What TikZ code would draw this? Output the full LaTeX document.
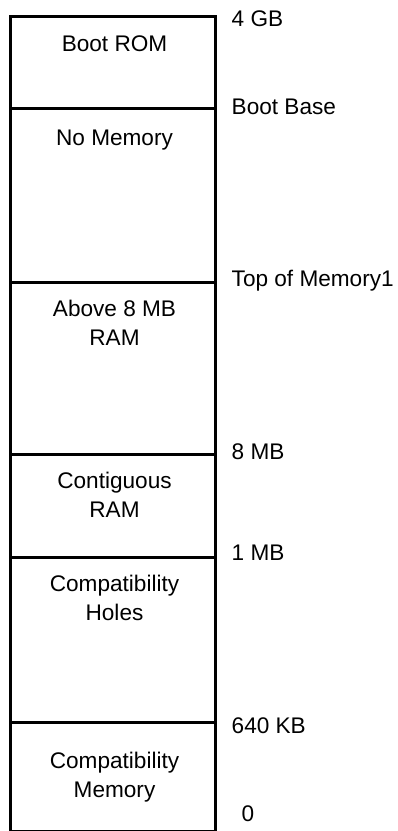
\documentclass[tikz,border=0pt]{standalone}
\usepackage{fontspec}
\setmainfont{Liberation Sans}
\begin{document}
\begin{tikzpicture}[x=1pt,y=-1pt,
  region/.style={font=\fontsize{22.6}{29}\selectfont, align=center, anchor=base, inner sep=0pt},
  addr/.style={font=\fontsize{22.6}{29}\selectfont, anchor=base west, inner sep=0pt},
  sep/.style={line width=3pt}]
\useasboundingbox (0,0) rectangle (398,831);
% outer frame
\draw[sep] (215.5,831) -- (215.5,16.5) -- (10.5,16.5) -- (10.5,831);
\draw[line width=3pt] (10.5,831) -- (215.5,831);
% separators
\foreach \yy in {108,282,454,557,722}
  \draw[sep] (10.5,\yy) -- (215.5,\yy);
% region labels
\node[region] (bootrom) at (114.5,51) {Boot ROM};
\node[region] (nomem) at (114.5,145.7) {No Memory};
\node[region] (above) at (114.5,316) {Above 8 MB};
\node[region] (above2) at (114.5,345) {RAM};
\node[region] (contig) at (114.5,488) {Contiguous};
\node[region] (contig2) at (114.5,517) {RAM};
\node[region] (holes) at (114.5,591) {Compatibility};
\node[region] (holes2) at (114.5,620) {Holes};
\node[region] (compmem) at (114.5,768) {Compatibility};
\node[region] (compmem2) at (114.5,797) {Memory};
% address labels
\node[addr] (a4gb) at (231.5,26) {4 GB};
\node[addr] (abase) at (231.5,114) {Boot Base};
\node[addr] (atop) at (231.5,286) {Top of Memory1};
\node[addr] (a8mb) at (231.5,459) {8 MB};
\node[addr] (a1mb) at (231.5,560.5) {1 MB};
\node[addr] (a640) at (231.5,733) {640 KB};
\node[addr] (a0) at (241.5,821.7) {0};
\end{tikzpicture}
\end{document}
